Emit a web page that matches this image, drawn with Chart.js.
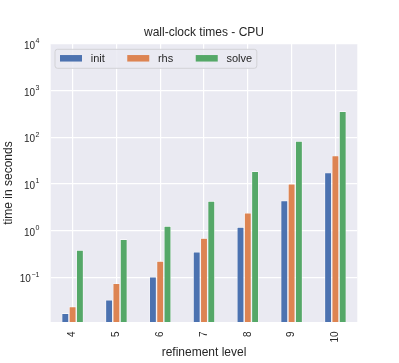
<!DOCTYPE html>
<html>
<head>
<meta charset="utf-8">
<script src="https://cdn.jsdelivr.net/npm/chart.js@4/dist/chart.umd.min.js"></script>
<style>
  html, body { margin: 0; padding: 0; background: #ffffff; }
  #c { display: block; }
</style>
</head>
<body>
<canvas id="c" width="399" height="363"></canvas>
<script>
// ---- data ----
const categories = ['4', '5', '6', '7', '8', '9', '10'];
const initTimes  = [0.017, 0.033, 0.103, 0.353, 1.2, 4.4, 17.5];
const rhsTimes   = [0.0235, 0.074, 0.223, 0.69, 2.4, 10.1, 40.4];
const solveTimes = [0.385, 0.65, 1.26, 4.3, 18.7, 83, 363];
const yTickValues = [0.1, 1, 10, 100, 1000, 10000];
const yTickExponents = ['\u22121', '0', '1', '2', '3', '4'];

const FONT = "'Liberation Sans', Arial, Helvetica, sans-serif";
const TEXT = '#262626';
const BG = '#EAEAF2';

const plotBg = {
  id: 'plotBg',
  afterLayout(chart) {
    const a = chart.chartArea;
    if (chart.titleBlock) {
      chart.titleBlock.left = a.left;
      chart.titleBlock.right = a.right;
    }
  },
  beforeDraw(chart) {
    const { ctx, chartArea: a } = chart;
    ctx.save();
    ctx.fillStyle = BG;
    ctx.fillRect(a.left, a.top, a.right - a.left, a.bottom - a.top);
    ctx.restore();
  }
};

const yLabels = {
  id: 'yLabels',
  afterDraw(chart) {
    const { ctx, chartArea: a } = chart;
    const y = chart.scales.y;
    ctx.save();
    ctx.fillStyle = TEXT;
    ctx.textBaseline = 'alphabetic';
    ctx.textAlign = 'right';
    const xr = a.left - 11.2;
    yTickValues.forEach((v, i) => {
      const py = y.getPixelForValue(v);
      ctx.font = '7px ' + FONT;
      const sup = yTickExponents[i];
      const sw = ctx.measureText(sup).width;
      ctx.fillText(sup, xr, py - 0.7);
      ctx.font = '10px ' + FONT;
      ctx.fillText('10', xr - sw - 0.6, py + 5.1);
    });
    ctx.restore();
  }
};

const boxLegend = {
  id: 'boxLegend',
  afterDatasetsDraw(chart) {
    const { ctx, chartArea: a } = chart;
    const ds = chart.data.datasets;
    ctx.save();
    ctx.font = '11px ' + FONT;
    const patchW = 22, patchH = 6.5, gap = 8.7, colSpace = 22.5;
    const fx = a.left + 4.3, fy = 49.3, fh = 19;
    let w = 5;
    ds.forEach((d, i) => {
      w += patchW + gap + ctx.measureText(d.label).width + (i < ds.length - 1 ? colSpace : 0);
    });
    w += 4.7;
    ctx.beginPath();
    const r = 2.5;
    ctx.moveTo(fx + r, fy);
    ctx.lineTo(fx + w - r, fy);
    ctx.quadraticCurveTo(fx + w, fy, fx + w, fy + r);
    ctx.lineTo(fx + w, fy + fh - r);
    ctx.quadraticCurveTo(fx + w, fy + fh, fx + w - r, fy + fh);
    ctx.lineTo(fx + r, fy + fh);
    ctx.quadraticCurveTo(fx, fy + fh, fx, fy + fh - r);
    ctx.lineTo(fx, fy + r);
    ctx.quadraticCurveTo(fx, fy, fx + r, fy);
    ctx.closePath();
    ctx.fillStyle = 'rgba(234,234,242,0.85)';
    ctx.fill();
    ctx.strokeStyle = '#d2d2d6';
    ctx.lineWidth = 1;
    ctx.stroke();
    let x = fx + 5;
    const cy = fy + fh / 2;
    ctx.textBaseline = 'middle';
    ctx.textAlign = 'left';
    ds.forEach((d) => {
      ctx.fillStyle = d.backgroundColor;
      ctx.fillRect(x, cy - patchH / 2 - 0.5, patchW, patchH);
      ctx.fillStyle = TEXT;
      ctx.fillText(d.label, x + patchW + gap, cy);
      x += patchW + gap + ctx.measureText(d.label).width + colSpace;
    });
    ctx.restore();
  }
};

const common = { borderColor: '#ffffff', borderWidth: 0.7, barPercentage: 1.0, categoryPercentage: 0.5 };

new Chart(document.getElementById('c'), {
  type: 'bar',
  data: {
    labels: categories,
    datasets: [
      Object.assign({ label: 'init',  data: initTimes,  backgroundColor: '#4C72B0' }, common),
      Object.assign({ label: 'rhs',   data: rhsTimes,   backgroundColor: '#DD8452' }, common),
      Object.assign({ label: 'solve', data: solveTimes, backgroundColor: '#55A868' }, common)
    ]
  },
  options: {
    responsive: false,
    animation: false,
    devicePixelRatio: 1,
    layout: { padding: { top: 0, left: 0, right: 41.7, bottom: 0 } },
    plugins: {
      legend: { display: false },
      tooltip: { enabled: false },
      title: {
        display: true,
        text: 'wall-clock times - CPU',
        color: TEXT,
        font: { family: FONT, size: 12, weight: 'normal', lineHeight: 1.2 },
        padding: { top: 25.8, bottom: 3.8 }
      }
    },
    scales: {
      x: {
        type: 'category',
        offset: true,
        grid: { color: '#ffffff', lineWidth: 1.2, offset: false, drawTicks: false },
        border: { display: false },
        ticks: {
          color: TEXT,
          font: { family: FONT, size: 10 },
          minRotation: 90, maxRotation: 90,
          autoSkip: false,
          padding: 9.5
        },
        title: {
          display: true,
          text: 'refinement level',
          color: TEXT,
          font: { family: FONT, size: 12, lineHeight: 1.2 },
          padding: { top: 0, bottom: 2.8 }
        },
        afterFit(s) { s.height = 41; }
      },
      y: {
        type: 'logarithmic',
        min: 0.011,
        max: 10000,
        grid: { color: '#ffffff', lineWidth: 1.2, drawTicks: false },
        border: { display: false },
        ticks: { display: false },
        afterBuildTicks(s) { s.ticks = yTickValues.map(v => ({ value: v })); },
        title: {
          display: true,
          text: 'time in seconds',
          color: TEXT,
          font: { family: FONT, size: 12, lineHeight: 1.2 },
          padding: { top: 1.3, bottom: 0 }
        },
        afterFit(s) { s.width = 50.7; }
      }
    }
  },
  plugins: [plotBg, yLabels, boxLegend]
});
</script>
</body>
</html>
